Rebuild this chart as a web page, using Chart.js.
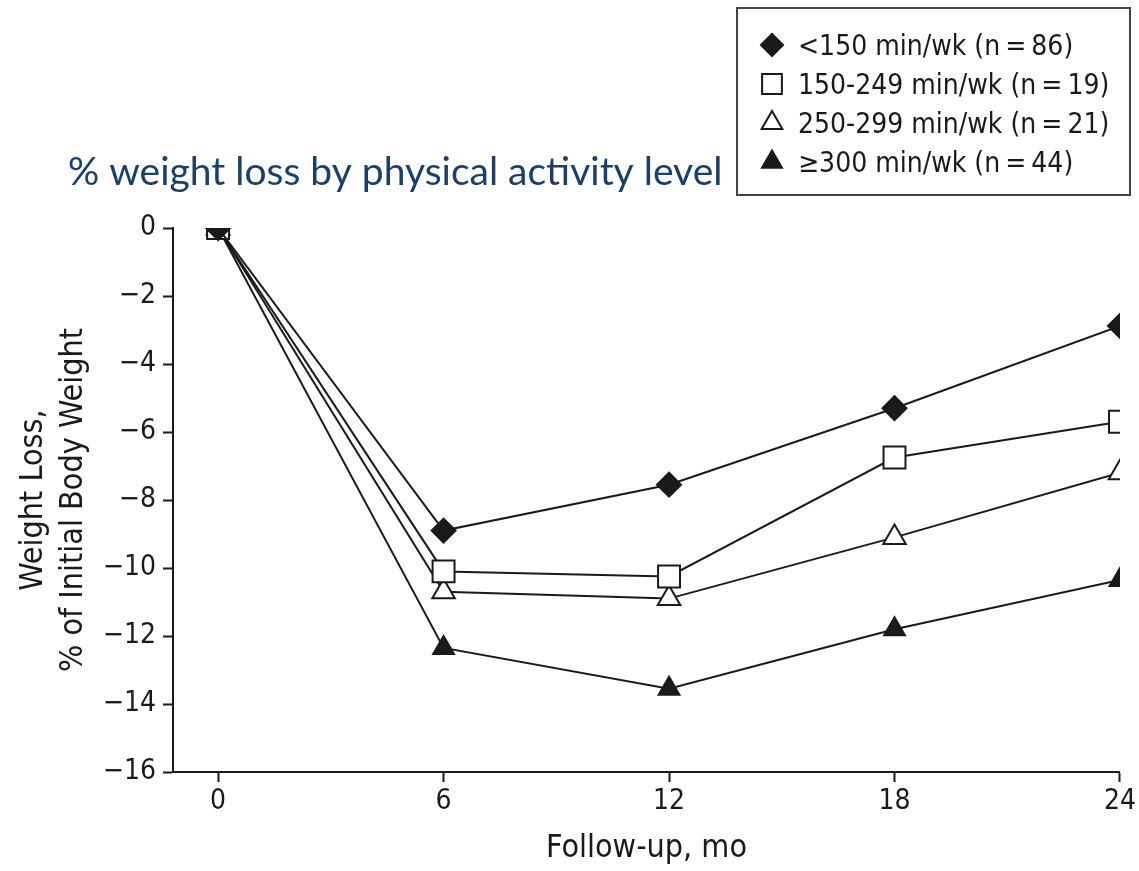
<!DOCTYPE html>
<html>
<head>
<meta charset="utf-8">
<title>% weight loss by physical activity level</title>
<script src="https://cdn.jsdelivr.net/npm/chart.js@4/dist/chart.umd.min.js"></script>
<style>
  html, body { margin: 0; padding: 0; background: #fff; }
  #wrap { width: 1139px; height: 871px; }
</style>
</head>
<body>
<div id="wrap"><canvas id="lossChart"></canvas></div>
<script>
// Follow-up months (x values)
const months = [0, 6, 12, 18, 24];

// Series labels
const seriesNames = [
  "<150 min/wk (n\u2009=\u200986)",
  "150-249 min/wk (n\u2009=\u200919)",
  "250-299 min/wk (n\u2009=\u200921)",
  "\u2265300 min/wk (n\u2009=\u200944)",
];

// % weight loss
const under150 = [0, -8.9, -7.55, -5.3, -2.88];
const from150to249 = [0, -10.1, -10.25, -6.75, -5.7];
const from250to299 = [0, -10.7, -10.9, -9.1, -7.2];
const over300 = [0, -12.35, -13.55, -11.8, -10.35];

// Tick labels
const xTickValues = [0, 6, 12, 18, 24];
const yTickValues = [0, -2, -4, -6, -8, -10, -12, -14, -16];

const narrow = "'Liberation Sans Narrow', 'Arial Narrow', 'DejaVu Sans Condensed', sans-serif";
const ink = "#1a1a1a";

// marker look per series
const markers = [
  { style: "rectRot", radius: 12, fill: ink, legendRadius: 11 },
  { style: "rect", radius: 15.5, fill: "#fff", legendRadius: 14 },
  { style: "triangle", radius: 13, fill: "#fff", legendRadius: 12 },
  { style: "triangle", radius: 12, fill: ink, legendRadius: 11.5 },
];

function makeDataset(label, values, m) {
  return {
    label: label,
    data: months.map((x, i) => ({ x: x, y: values[i] })),
    borderColor: ink,
    borderWidth: 2,
    pointStyle: m.style,
    pointRadius: m.radius,
    pointBackgroundColor: m.fill,
    pointBorderColor: ink,
    pointBorderWidth: 2,
    tension: 0,
    fill: false,
  };
}

// Title and boxed legend drawn on the canvas
const headerPlugin = {
  id: "header",
  afterDraw(chart) {
    const ctx = chart.ctx;
    ctx.save();

    ctx.fillStyle = "#1b3f66";
    ctx.font = "39px Lato, 'Open Sans', sans-serif";
    ctx.textAlign = "left";
    ctx.textBaseline = "alphabetic";
    ctx.fillText("% weight loss by physical activity level", 68, 185);

    ctx.strokeStyle = "#444";
    ctx.lineWidth = 2;
    ctx.strokeRect(737, 8, 393, 187);

    ctx.font = "28px " + narrow;
    chart.data.datasets.forEach((ds, i) => {
      const base = 55 + i * 39;
      const m = markers[i];
      ctx.fillStyle = m.fill;
      ctx.strokeStyle = ink;
      ctx.lineWidth = 2;
      Chart.helpers.drawPoint(ctx, {
        pointStyle: m.style,
        radius: m.legendRadius,
        borderWidth: 2,
        rotation: 0,
      }, 772, base - 10);
      ctx.fillStyle = ink;
      ctx.fillText(ds.label, 798, base);
    });

    ctx.restore();
  },
};

const ctx = document.getElementById("lossChart").getContext("2d");

const lossChart = new Chart(ctx, {
  type: "line",
  data: {
    datasets: [
      makeDataset(seriesNames[0], under150, markers[0]),
      makeDataset(seriesNames[1], from150to249, markers[1]),
      makeDataset(seriesNames[2], from250to299, markers[2]),
      makeDataset(seriesNames[3], over300, markers[3]),
    ],
  },
  options: {
    responsive: true,
    maintainAspectRatio: false,
    animation: false,
    layout: { padding: { top: 228, right: 19, left: 0, bottom: 0 } },
    plugins: {
      legend: { display: false },
      tooltip: { enabled: false },
    },
    scales: {
      x: {
        type: "linear",
        min: -1.2,
        max: 24,
        afterBuildTicks: (s) => { s.ticks = xTickValues.map((v) => ({ value: v })); },
        afterFit: (s) => { s.height = 99; },
        grid: { drawOnChartArea: false, drawTicks: true, tickLength: 10, tickWidth: 2, tickColor: ink },
        border: { display: true, color: ink, width: 2 },
        ticks: { font: { family: narrow, size: 28 }, color: ink, padding: 3, maxRotation: 0, autoSkip: false },
        title: {
          display: true,
          text: "Follow-up, mo",
          font: { family: narrow, size: 32, lineHeight: 1.2 },
          color: ink,
          padding: { top: 0, bottom: 3 },
        },
      },
      y: {
        min: -16,
        max: 0,
        afterBuildTicks: (s) => { s.ticks = yTickValues.map((v) => ({ value: v })); },
        afterFit: (s) => { s.width = 173; },
        grid: { drawOnChartArea: false, drawTicks: true, tickLength: 10, tickWidth: 2, tickColor: ink },
        border: { display: true, color: ink, width: 2 },
        ticks: {
          font: { family: narrow, size: 28 },
          color: ink,
          padding: 7,
          autoSkip: false,
          callback: (v) => (v === 0 ? "0" : "\u2212" + Math.abs(v)),
        },
        title: {
          display: true,
          text: ["Weight Loss,", "% of Initial Body Weight"],
          font: { family: narrow, size: 32, lineHeight: 1.25 },
          color: ink,
          padding: { top: 14, bottom: 0 },
        },
      },
    },
  },
  plugins: [headerPlugin],
});
</script>
</body>
</html>
